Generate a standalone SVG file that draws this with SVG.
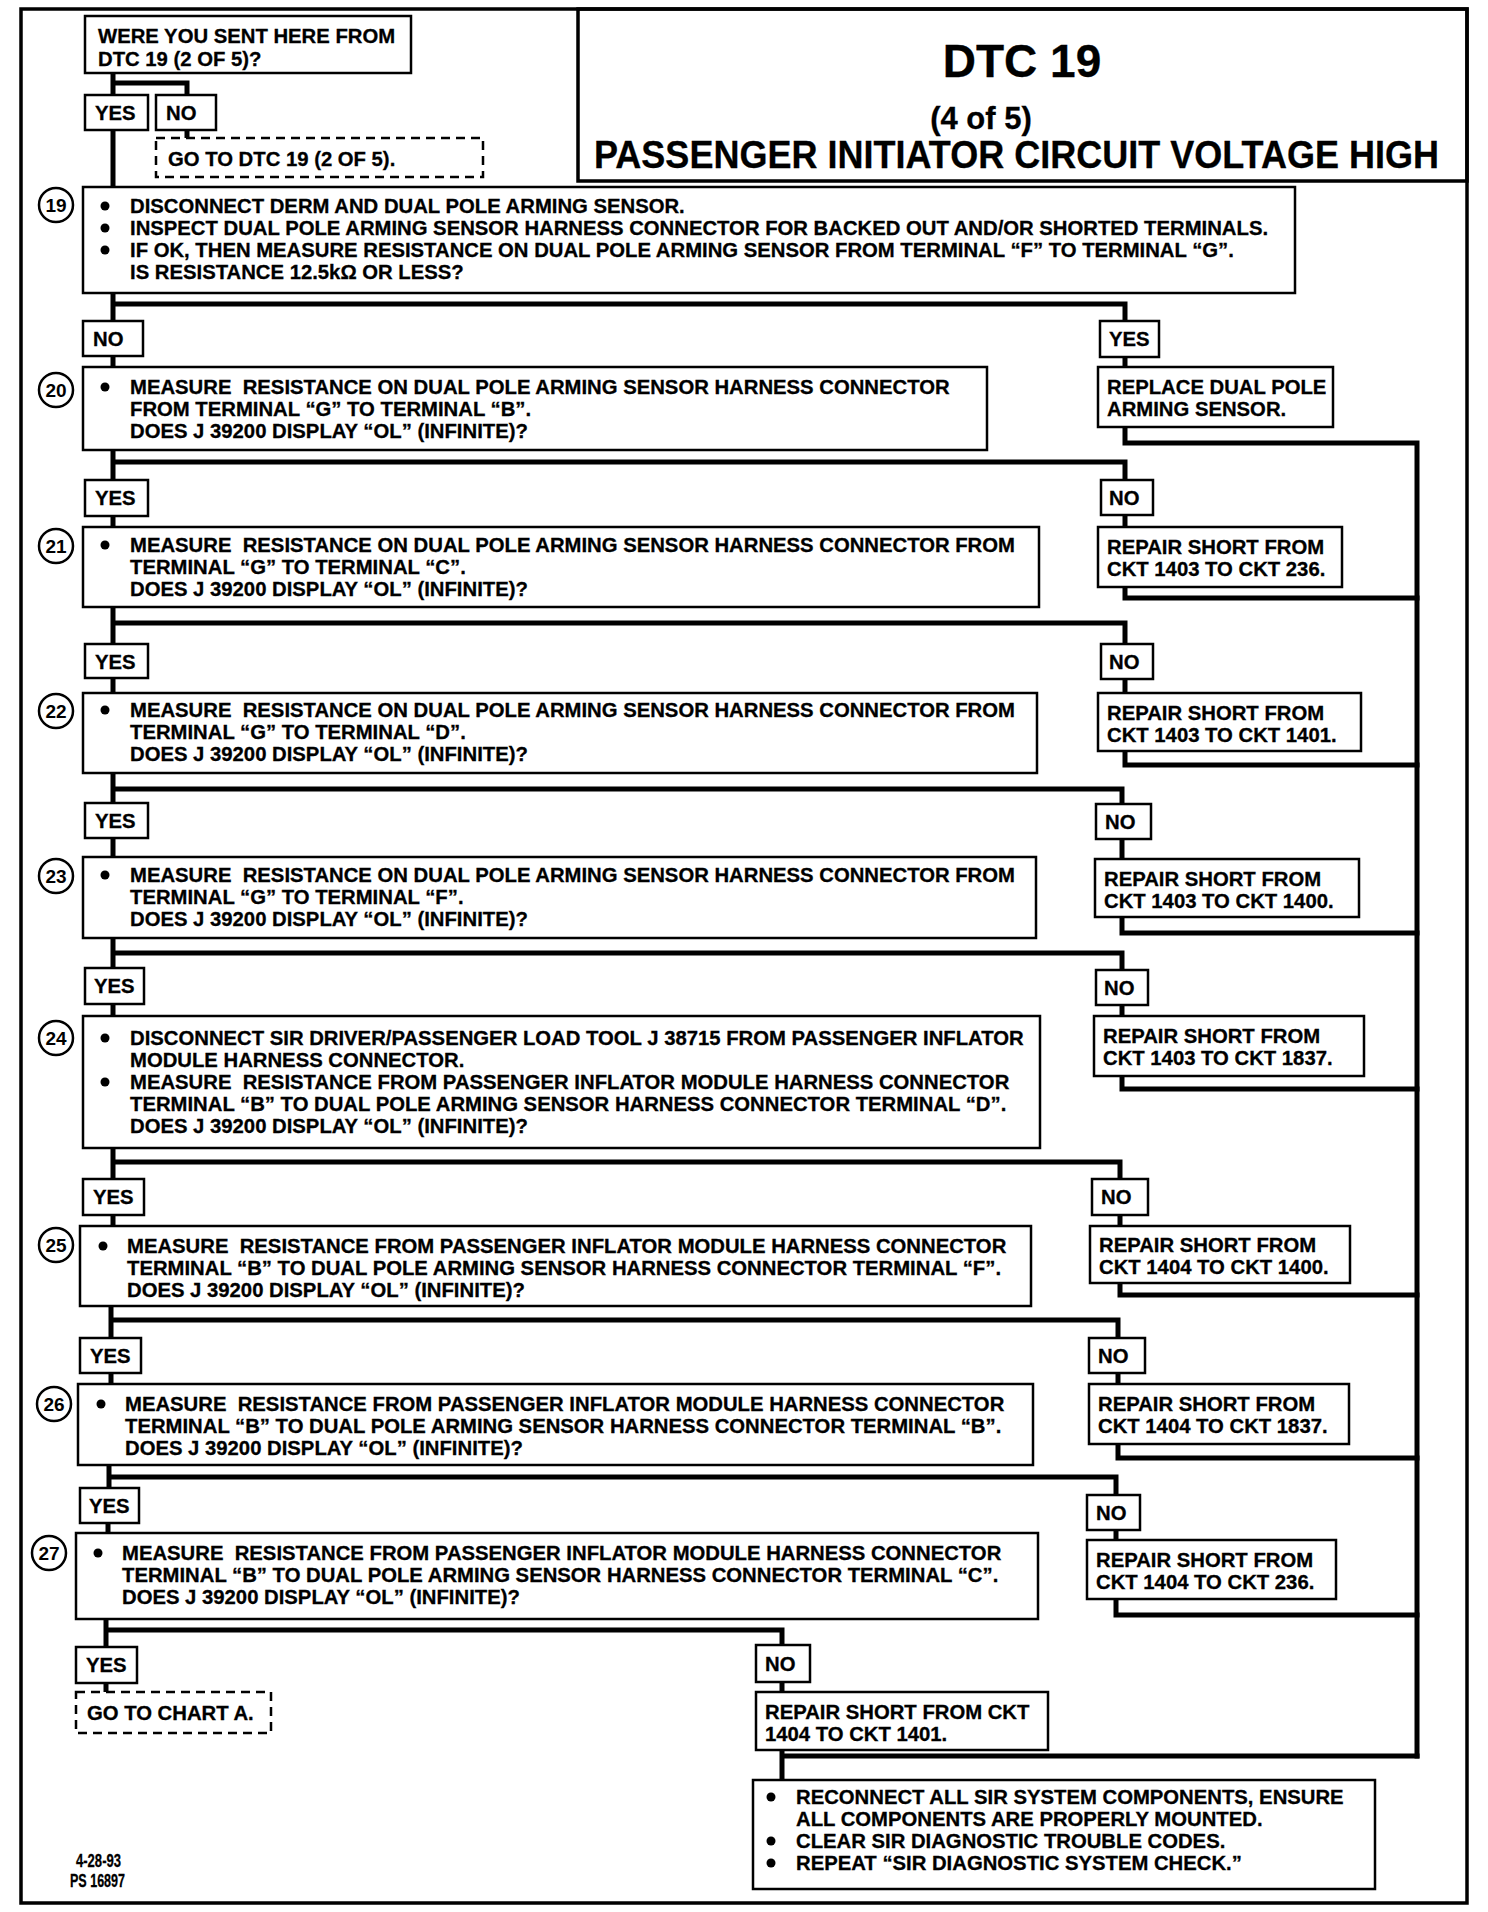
<svg xmlns="http://www.w3.org/2000/svg" width="1488" height="1912" viewBox="0 0 1488 1912">
<style>
.frame{fill:none;stroke:#000;stroke-width:3.5}
.box{fill:#fff;stroke:#000;stroke-width:2.5}
.dash{fill:#fff;stroke:#000;stroke-width:2.5;stroke-dasharray:9 6}
.conn{fill:none;stroke:#000;stroke-width:5;stroke-linecap:square;stroke-linejoin:miter}
.t{font-family:"Liberation Sans",Arial,sans-serif;font-weight:bold;font-size:20.3px;fill:#000;stroke:#000;stroke-width:0.3;white-space:pre}
.num{font-family:"Liberation Sans",Arial,sans-serif;font-weight:bold;font-size:19px;fill:#000;text-anchor:middle}
.circ{fill:#fff;stroke:#000;stroke-width:2.5}
.bul{fill:#000}
</style>
<rect x="0" y="0" width="1488" height="1912" fill="#fff"/>
<rect class="frame" x="21" y="9" width="1446" height="1894"/>
<g id="title">
<rect class="frame" x="578" y="9" width="889" height="172"/>
<text class="t" x="1022" y="77" text-anchor="middle" style="font-size:46px">DTC 19</text>
<text class="t" x="981" y="129" text-anchor="middle" style="font-size:31px">(4 of 5)</text>
<text class="t" x="594" y="168" style="font-size:38px" textLength="845" lengthAdjust="spacingAndGlyphs">PASSENGER INITIATOR CIRCUIT VOLTAGE HIGH</text>
</g>
<g id="connectors">
<path class="conn" d="M113 73 V95 M113 83 H187 V95 M187 130 V138 M113 130 V187"/>
<path class="conn" d="M113 293 V321 M113 304 H1125 V321"/>
<path class="conn" d="M113 356 V367 M1125 357 V367"/>
<path class="conn" d="M1125 427 V443 H1417 V1756"/>
<path class="conn" d="M113 450 V480 M113 462 H1125 V480"/>
<path class="conn" d="M113 516 V527 M1125 515 V527"/>
<path class="conn" d="M1125 587 V598 H1417"/>
<path class="conn" d="M113 607 V644 M113 623 H1125 V644"/>
<path class="conn" d="M113 678 V693 M1125 679 V693"/>
<path class="conn" d="M1125 751 V765 H1417"/>
<path class="conn" d="M113 773 V803 M113 789 H1122 V804"/>
<path class="conn" d="M113 838 V857 M1122 839 V859"/>
<path class="conn" d="M1122 917 V933 H1417"/>
<path class="conn" d="M113 938 V968 M113 953 H1122 V970"/>
<path class="conn" d="M113 1004 V1016 M1122 1005 V1016"/>
<path class="conn" d="M1122 1076 V1089 H1417"/>
<path class="conn" d="M113 1148 V1179 M113 1162 H1120 V1179"/>
<path class="conn" d="M113 1215 V1226 M1120 1215 V1226"/>
<path class="conn" d="M1120 1283 V1295 H1417"/>
<path class="conn" d="M111 1306 V1338 M111 1320 H1118 V1338"/>
<path class="conn" d="M111 1373 V1384 M1118 1373 V1384"/>
<path class="conn" d="M1118 1444 V1458 H1417"/>
<path class="conn" d="M109 1465 V1488 M109 1477 H1116 V1495"/>
<path class="conn" d="M108 1523 V1533 M1116 1530 V1540"/>
<path class="conn" d="M1116 1599 V1615 H1417"/>
<path class="conn" d="M106 1619 V1647 M106 1630 H782 V1645"/>
<path class="conn" d="M106 1683 V1692 M782 1682 V1692"/>
<path class="conn" d="M782 1750 V1780 M782 1756 H1417"/>
</g>
<g id="q0">
<rect class="box" x="85" y="16" width="326" height="57"/>
<text class="t" x="98" y="43">WERE YOU SENT HERE FROM</text>
<text class="t" x="98" y="66">DTC 19 (2 OF 5)?</text>
</g>
<g id="yes0"><rect class="box" x="85" y="95" width="63" height="35"/><text class="t" x="95" y="120">YES</text></g>
<g id="no0"><rect class="box" x="156" y="95" width="60" height="35"/><text class="t" x="166" y="120">NO</text></g>
<g id="goto0"><rect class="dash" x="156" y="138" width="327" height="39"/><text class="t" x="168" y="166">GO TO DTC 19 (2 OF 5).</text></g>

<g id="step19">
<rect class="box" x="83" y="187" width="1212" height="106"/>
<circle class="circ" cx="56" cy="205" r="17"/><text class="num" x="56" y="212">19</text>
<circle class="bul" cx="105" cy="206" r="4.5"/><circle class="bul" cx="105" cy="228" r="4.5"/><circle class="bul" cx="105" cy="250" r="4.5"/>
<text class="t" x="130" y="213">DISCONNECT DERM AND DUAL POLE ARMING SENSOR.</text>
<text class="t" x="130" y="235">INSPECT DUAL POLE ARMING SENSOR HARNESS CONNECTOR FOR BACKED OUT AND/OR SHORTED TERMINALS.</text>
<text class="t" x="130" y="257">IF OK, THEN MEASURE RESISTANCE ON DUAL POLE ARMING SENSOR FROM TERMINAL “F” TO TERMINAL “G”.</text>
<text class="t" x="130" y="279">IS RESISTANCE 12.5kΩ OR LESS?</text>
</g>
<g id="no1"><rect class="box" x="83" y="321" width="60" height="35"/><text class="t" x="93" y="346">NO</text></g>
<g id="yes1"><rect class="box" x="1100" y="321" width="59" height="36"/><text class="t" x="1109" y="346">YES</text></g>

<g id="step20">
<rect class="box" x="83" y="367" width="904" height="83"/>
<circle class="circ" cx="56" cy="390" r="17"/><text class="num" x="56" y="397">20</text>
<circle class="bul" cx="105" cy="387" r="4.5"/>
<text class="t" x="130" y="394">MEASURE  RESISTANCE ON DUAL POLE ARMING SENSOR HARNESS CONNECTOR</text>
<text class="t" x="130" y="416">FROM TERMINAL “G” TO TERMINAL “B”.</text>
<text class="t" x="130" y="438">DOES J 39200 DISPLAY “OL” (INFINITE)?</text>
</g>
<g id="replace"><rect class="box" x="1098" y="367" width="235" height="60"/>
<text class="t" x="1107" y="394">REPLACE DUAL POLE</text><text class="t" x="1107" y="416">ARMING SENSOR.</text></g>

<g id="yes2"><rect class="box" x="85" y="480" width="63" height="36"/><text class="t" x="95" y="505">YES</text></g>
<g id="no2"><rect class="box" x="1101" y="480" width="52" height="35"/><text class="t" x="1109" y="505">NO</text></g>
<g id="step21">
<rect class="box" x="83" y="527" width="956" height="80"/>
<circle class="circ" cx="56" cy="546" r="17"/><text class="num" x="56" y="553">21</text>
<circle class="bul" cx="105" cy="545" r="4.5"/>
<text class="t" x="130" y="552">MEASURE  RESISTANCE ON DUAL POLE ARMING SENSOR HARNESS CONNECTOR FROM</text>
<text class="t" x="130" y="574">TERMINAL “G” TO TERMINAL “C”.</text>
<text class="t" x="130" y="596">DOES J 39200 DISPLAY “OL” (INFINITE)?</text>
</g>
<g id="repair21"><rect class="box" x="1098" y="527" width="244" height="60"/>
<text class="t" x="1107" y="554">REPAIR SHORT FROM</text><text class="t" x="1107" y="576">CKT 1403 TO CKT 236.</text></g>

<g id="yes3"><rect class="box" x="85" y="644" width="63" height="34"/><text class="t" x="95" y="669">YES</text></g>
<g id="no3"><rect class="box" x="1101" y="644" width="52" height="35"/><text class="t" x="1109" y="669">NO</text></g>
<g id="step22">
<rect class="box" x="83" y="693" width="954" height="80"/>
<circle class="circ" cx="56" cy="711" r="17"/><text class="num" x="56" y="718">22</text>
<circle class="bul" cx="105" cy="710" r="4.5"/>
<text class="t" x="130" y="717">MEASURE  RESISTANCE ON DUAL POLE ARMING SENSOR HARNESS CONNECTOR FROM</text>
<text class="t" x="130" y="739">TERMINAL “G” TO TERMINAL “D”.</text>
<text class="t" x="130" y="761">DOES J 39200 DISPLAY “OL” (INFINITE)?</text>
</g>
<g id="repair22"><rect class="box" x="1098" y="693" width="263" height="58"/>
<text class="t" x="1107" y="720">REPAIR SHORT FROM</text><text class="t" x="1107" y="742">CKT 1403 TO CKT 1401.</text></g>

<g id="yes4"><rect class="box" x="85" y="803" width="63" height="35"/><text class="t" x="95" y="828">YES</text></g>
<g id="no4"><rect class="box" x="1096" y="804" width="55" height="35"/><text class="t" x="1105" y="829">NO</text></g>
<g id="step23">
<rect class="box" x="83" y="857" width="953" height="81"/>
<circle class="circ" cx="56" cy="876" r="17"/><text class="num" x="56" y="883">23</text>
<circle class="bul" cx="105" cy="875" r="4.5"/>
<text class="t" x="130" y="882">MEASURE  RESISTANCE ON DUAL POLE ARMING SENSOR HARNESS CONNECTOR FROM</text>
<text class="t" x="130" y="904">TERMINAL “G” TO TERMINAL “F”.</text>
<text class="t" x="130" y="926">DOES J 39200 DISPLAY “OL” (INFINITE)?</text>
</g>
<g id="repair23"><rect class="box" x="1095" y="859" width="264" height="58"/>
<text class="t" x="1104" y="886">REPAIR SHORT FROM</text><text class="t" x="1104" y="908">CKT 1403 TO CKT 1400.</text></g>

<g id="yes5"><rect class="box" x="85" y="968" width="59" height="36"/><text class="t" x="94" y="993">YES</text></g>
<g id="no5"><rect class="box" x="1096" y="970" width="52" height="35"/><text class="t" x="1104" y="995">NO</text></g>
<g id="step24">
<rect class="box" x="83" y="1016" width="957" height="132"/>
<circle class="circ" cx="56" cy="1038" r="17"/><text class="num" x="56" y="1045">24</text>
<circle class="bul" cx="105" cy="1038" r="4.5"/><circle class="bul" cx="105" cy="1082" r="4.5"/>
<text class="t" x="130" y="1045">DISCONNECT SIR DRIVER/PASSENGER LOAD TOOL J 38715 FROM PASSENGER INFLATOR</text>
<text class="t" x="130" y="1067">MODULE HARNESS CONNECTOR.</text>
<text class="t" x="130" y="1089">MEASURE  RESISTANCE FROM PASSENGER INFLATOR MODULE HARNESS CONNECTOR</text>
<text class="t" x="130" y="1111">TERMINAL “B” TO DUAL POLE ARMING SENSOR HARNESS CONNECTOR TERMINAL “D”.</text>
<text class="t" x="130" y="1133">DOES J 39200 DISPLAY “OL” (INFINITE)?</text>
</g>
<g id="repair24"><rect class="box" x="1094" y="1016" width="270" height="60"/>
<text class="t" x="1103" y="1043">REPAIR SHORT FROM</text><text class="t" x="1103" y="1065">CKT 1403 TO CKT 1837.</text></g>

<g id="yes6"><rect class="box" x="83" y="1179" width="61" height="36"/><text class="t" x="93" y="1204">YES</text></g>
<g id="no6"><rect class="box" x="1092" y="1179" width="56" height="36"/><text class="t" x="1101" y="1204">NO</text></g>
<g id="step25">
<rect class="box" x="80" y="1226" width="951" height="80"/>
<circle class="circ" cx="56" cy="1245" r="17"/><text class="num" x="56" y="1252">25</text>
<circle class="bul" cx="103" cy="1246" r="4.5"/>
<text class="t" x="127" y="1253">MEASURE  RESISTANCE FROM PASSENGER INFLATOR MODULE HARNESS CONNECTOR</text>
<text class="t" x="127" y="1275">TERMINAL “B” TO DUAL POLE ARMING SENSOR HARNESS CONNECTOR TERMINAL “F”.</text>
<text class="t" x="127" y="1297">DOES J 39200 DISPLAY “OL” (INFINITE)?</text>
</g>
<g id="repair25"><rect class="box" x="1090" y="1226" width="260" height="57"/>
<text class="t" x="1099" y="1252">REPAIR SHORT FROM</text><text class="t" x="1099" y="1274">CKT 1404 TO CKT 1400.</text></g>

<g id="yes7"><rect class="box" x="80" y="1338" width="61" height="35"/><text class="t" x="90" y="1363">YES</text></g>
<g id="no7"><rect class="box" x="1089" y="1338" width="56" height="35"/><text class="t" x="1098" y="1363">NO</text></g>
<g id="step26">
<rect class="box" x="78" y="1384" width="955" height="81"/>
<circle class="circ" cx="54" cy="1404" r="17"/><text class="num" x="54" y="1411">26</text>
<circle class="bul" cx="101" cy="1404" r="4.5"/>
<text class="t" x="125" y="1411">MEASURE  RESISTANCE FROM PASSENGER INFLATOR MODULE HARNESS CONNECTOR</text>
<text class="t" x="125" y="1433">TERMINAL “B” TO DUAL POLE ARMING SENSOR HARNESS CONNECTOR TERMINAL “B”.</text>
<text class="t" x="125" y="1455">DOES J 39200 DISPLAY “OL” (INFINITE)?</text>
</g>
<g id="repair26"><rect class="box" x="1089" y="1384" width="260" height="60"/>
<text class="t" x="1098" y="1411">REPAIR SHORT FROM</text><text class="t" x="1098" y="1433">CKT 1404 TO CKT 1837.</text></g>

<g id="yes8"><rect class="box" x="80" y="1488" width="59" height="35"/><text class="t" x="89" y="1513">YES</text></g>
<g id="no8"><rect class="box" x="1087" y="1495" width="53" height="35"/><text class="t" x="1096" y="1520">NO</text></g>
<g id="step27">
<rect class="box" x="76" y="1533" width="962" height="86"/>
<circle class="circ" cx="49" cy="1553" r="17"/><text class="num" x="49" y="1560">27</text>
<circle class="bul" cx="98" cy="1553" r="4.5"/>
<text class="t" x="122" y="1560">MEASURE  RESISTANCE FROM PASSENGER INFLATOR MODULE HARNESS CONNECTOR</text>
<text class="t" x="122" y="1582">TERMINAL “B” TO DUAL POLE ARMING SENSOR HARNESS CONNECTOR TERMINAL “C”.</text>
<text class="t" x="122" y="1604">DOES J 39200 DISPLAY “OL” (INFINITE)?</text>
</g>
<g id="repair27"><rect class="box" x="1087" y="1540" width="249" height="59"/>
<text class="t" x="1096" y="1567">REPAIR SHORT FROM</text><text class="t" x="1096" y="1589">CKT 1404 TO CKT 236.</text></g>

<g id="yes9"><rect class="box" x="76" y="1647" width="61" height="36"/><text class="t" x="86" y="1672">YES</text></g>
<g id="no9"><rect class="box" x="756" y="1645" width="54" height="37"/><text class="t" x="765" y="1671">NO</text></g>
<g id="chartA"><rect class="dash" x="76" y="1692" width="195" height="41"/><text class="t" x="87" y="1720">GO TO CHART A.</text></g>
<g id="repair1401"><rect class="box" x="756" y="1692" width="292" height="58"/>
<text class="t" x="765" y="1719">REPAIR SHORT FROM CKT</text><text class="t" x="765" y="1741">1404 TO CKT 1401.</text></g>

<g id="final">
<rect class="box" x="753" y="1780" width="622" height="109"/>
<circle class="bul" cx="771" cy="1797" r="4.5"/><circle class="bul" cx="771" cy="1841" r="4.5"/><circle class="bul" cx="771" cy="1863" r="4.5"/>
<text class="t" x="796" y="1804">RECONNECT ALL SIR SYSTEM COMPONENTS, ENSURE</text>
<text class="t" x="796" y="1826">ALL COMPONENTS ARE PROPERLY MOUNTED.</text>
<text class="t" x="796" y="1848">CLEAR SIR DIAGNOSTIC TROUBLE CODES.</text>
<text class="t" x="796" y="1870">REPEAT “SIR DIAGNOSTIC SYSTEM CHECK.”</text>
</g>
<g id="footer">
<text class="t" x="76" y="1867" style="font-size:19px" textLength="45" lengthAdjust="spacingAndGlyphs">4-28-93</text>
<text class="t" x="70" y="1887" style="font-size:19px" textLength="55" lengthAdjust="spacingAndGlyphs">PS 16897</text>
</g>
</svg>
